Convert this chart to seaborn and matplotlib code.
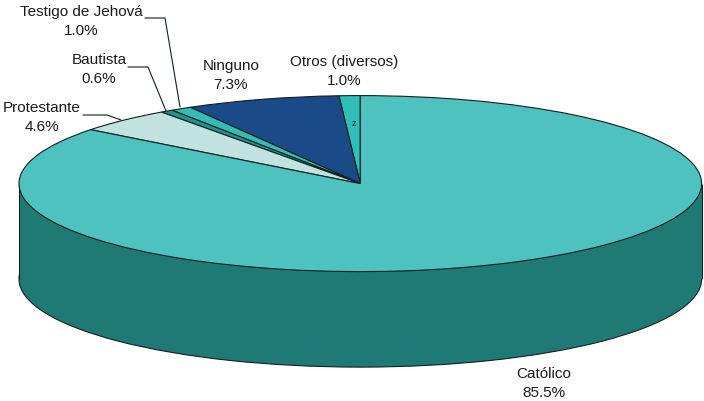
import matplotlib
matplotlib.use("Agg")
import matplotlib.pyplot as plt
import seaborn as sns

# ── Data ──────────────────────────────────────────────────
religions = ["Otros (diversos)", "Ninguno", "Testigo de Jehová", "Bautista", "Protestante", "Católico"]
shares = [1.0, 7.3, 1.0, 0.6, 4.6, 85.5]
slice_colors = ["#2FBFB8", "#1A4A87", "#35BDB5", "#1F948C", "#C1E2DE", "#4DC2BE"]

# ── Style ─────────────────────────────────────────────────
SIDE_CLR = "#1F7A76"
EDGE_CLR = "#10201F"
TEXT_CLR = "#1A1A1A"
W, H = 704, 402
CX, CY = 360.3, 184.6  # centre of the top face, pixels
RX, RY = 341.3, 88     # radii of the top face, pixels
DEPTH = 95.5 / RY

sns.set_theme(style="white")
plt.rcParams["font.family"] = ["Liberation Sans", "DejaVu Sans"]

fig = plt.figure(figsize=(W / 100, H / 100), dpi=100)
ax = fig.add_axes([0, 0, 1, 1])

# side wall: a dark disc under the top face, joined by a band
ax.pie([1], colors=[SIDE_CLR], radius=1, center=(0, -DEPTH),
       wedgeprops={"edgecolor": EDGE_CLR, "linewidth": 0.8})
ax.fill_between([-1, 1], -DEPTH, 0, color=SIDE_CLR, lw=0, zorder=1.5)
ax.plot([-1, -1], [-DEPTH, 0], color=EDGE_CLR, lw=0.8, zorder=1.6, solid_capstyle="butt")
ax.plot([1, 1], [-DEPTH, 0], color=EDGE_CLR, lw=0.8, zorder=1.6, solid_capstyle="butt")

# top face
ax.pie(shares, colors=slice_colors, startangle=90, radius=1,
       wedgeprops={"edgecolor": EDGE_CLR, "linewidth": 0.8, "zorder": 2})

ax.set_aspect("auto")
ax.set_xlim(-CX / RX, (W - CX) / RX)
ax.set_ylim(-(H - CY) / RY, CY / RY)


def px(x, y):
    return (x - CX) / RX, (CY - y) / RY


# ── Labels (placed in pixels, same order as religions) ────
label_pos = [(344.5, 71.5), (231, 75.5), (81, 21.5), (99, 69.5), (42, 117.5), (544, 383.5)]
for name, val, (x, y) in zip(religions, shares, label_pos):
    ax.text(*px(x, y), f"{name}\n{val:.1f}%", ha="center", va="center",
            fontsize=11, color=TEXT_CLR, linespacing=1.47, zorder=5)

ax.text(*px(354, 124), "z", ha="center", va="center", fontsize=6.5, color=TEXT_CLR, zorder=5)

# leader lines
leaders = [
    [(145, 19), (165, 19), (180, 108)],
    [(128, 68), (148, 68), (166, 112)],
    [(83, 116), (107, 116), (121, 121)],
]
for pts in leaders:
    xs, ys = zip(*[px(*p) for p in pts])
    ax.plot(xs, ys, color=EDGE_CLR, lw=0.8, zorder=4)

fig.savefig("out.png", dpi=100)
plt.close()
